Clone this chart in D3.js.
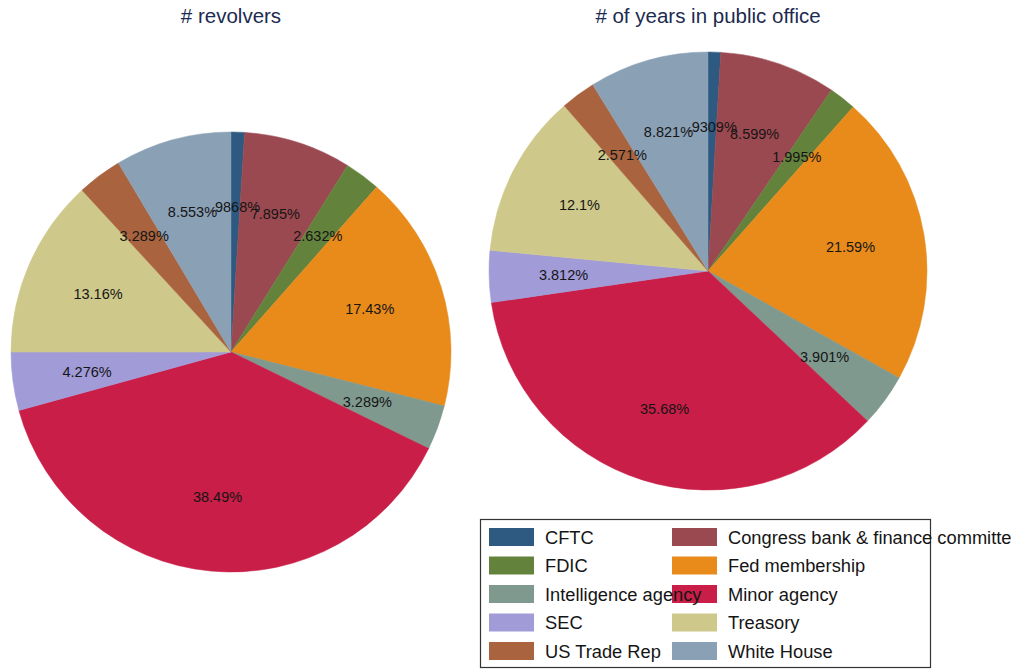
<!DOCTYPE html>
<html>
<head>
<meta charset="utf-8">
<script src="https://cdn.jsdelivr.net/npm/d3@7"></script>
<style>
  body { margin: 0; background: #fff; }
  svg { display: block; font-family: "Liberation Sans", Arial, sans-serif; }
</style>
</head>
<body>
<svg id="chart" width="1018" height="670"></svg>
<script>
// categories, in stata draw order (clockwise from 12 o'clock)
const categories = ["CFTC", "Congress bank & finance committe", "FDIC", "Fed membership",
  "Intelligence agency", "Minor agency", "SEC", "Treasory", "US Trade Rep", "White House"];

const revolvers = [0.9868, 7.895, 2.632, 17.43, 3.289, 38.49, 4.276, 13.16, 3.289, 8.553];
const revolverLabels = [".9868%", "7.895%", "2.632%", "17.43%", "3.289%", "38.49%", "4.276%", "13.16%", "3.289%", "8.553%"];

const yearsInOffice = [0.9309, 8.599, 1.995, 21.59, 3.901, 35.68, 3.812, 12.1, 2.571, 8.821];
const yearsLabels = [".9309%", "8.599%", "1.995%", "21.59%", "3.901%", "35.68%", "3.812%", "12.1%", "2.571%", "8.821%"];

const colors = ["#2e5a82", "#9b4950", "#63833d", "#e88b1b", "#7f998f",
  "#c81e47", "#a19bd8", "#cfc88b", "#a9643f", "#8aa0b5"];

const svg = d3.select("#chart");
const color = d3.scaleOrdinal().domain(categories).range(colors);

const pie = d3.pie().sort(null).value(d => d.v);

function drawPie(opts) {
  let {cx, cy, r, title, values, labels} = opts;
  let g = svg.append("g").attr("transform", `translate(${cx},${cy})`);

  let data = pie(values.map((v, i) => ({v, name: categories[i], label: labels[i]})));
  let arc = d3.arc().innerRadius(0).outerRadius(r);
  let labelArc = d3.arc().innerRadius(r * 0.66).outerRadius(r * 0.66);

  g.selectAll("path.slice")
    .data(data)
    .enter().append("path")
    .attr("class", "slice")
    .attr("d", arc)
    .attr("fill", d => color(d.data.name))
    .attr("stroke", d => color(d.data.name))
    .attr("stroke-width", 0.5);

  g.selectAll("text.plabel")
    .data(data)
    .enter().append("text")
    .attr("class", "plabel")
    .attr("transform", d => `translate(${labelArc.centroid(d)})`)
    .attr("text-anchor", "middle")
    .attr("dy", "0.35em")
    .style("font-size", "14.5px")
    .style("fill", "#151515")
    .text(d => d.data.label);

  svg.append("text")
    .attr("x", cx)
    .attr("y", 23)
    .attr("text-anchor", "middle")
    .style("font-size", "20.5px")
    .style("fill", "#1c2b50")
    .text(title);
}

drawPie({cx: 231, cy: 352, r: 220, title: "# revolvers", values: revolvers, labels: revolverLabels});
drawPie({cx: 708, cy: 271, r: 219, title: "# of years in public office", values: yearsInOffice, labels: yearsLabels});

// legend, two columns
let legend = svg.append("g");
legend.append("rect")
  .attr("x", 480.5).attr("y", 519.5)
  .attr("width", 450).attr("height", 148)
  .attr("fill", "#fff")
  .attr("stroke", "#333")
  .attr("stroke-width", 1.2);

let colX = [489, 672], rowY = d3.range(5).map(i => 537 + i * 28.5);
let pos = (i) => [colX[i % 2], rowY[Math.floor(i / 2)]];

// swatches first, keys on top (long keys run over the next column)
legend.selectAll("rect.key")
  .data(categories)
  .enter().append("rect")
  .attr("class", "key")
  .attr("x", (d, i) => pos(i)[0])
  .attr("y", (d, i) => pos(i)[1] - 9)
  .attr("width", 45).attr("height", 18)
  .attr("fill", d => color(d));

legend.selectAll("text.key")
  .data(categories)
  .enter().append("text")
  .attr("class", "key")
  .attr("x", (d, i) => pos(i)[0] + 56)
  .attr("y", (d, i) => pos(i)[1])
  .attr("dy", "0.36em")
  .style("font-size", "18.3px")
  .style("fill", "#151515")
  .text(d => d);
</script>
</body>
</html>
